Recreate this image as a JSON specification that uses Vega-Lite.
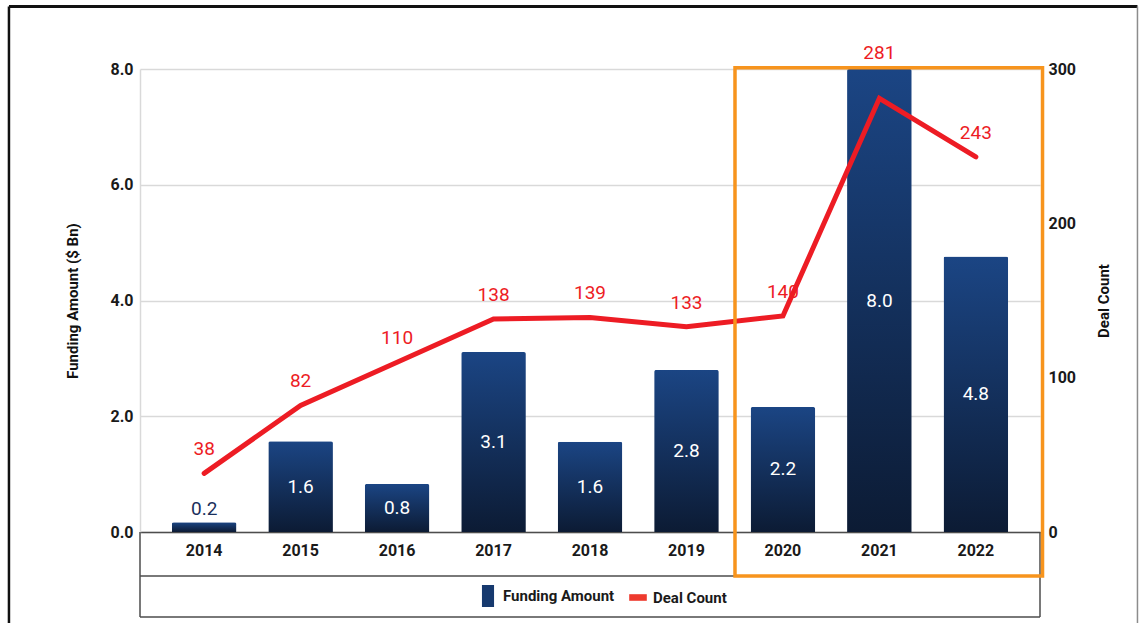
{
  "$schema": "https://vega.github.io/schema/vega-lite/v6.json",
  "width": 900,
  "height": 463,
  "autosize": {"type": "none"},
  "padding": {"left": 140, "top": 69, "right": 99, "bottom": 91},
  "background": "white",
  "config": {"view": {"stroke": null}},
  "data": {
    "values": [
      {"year": "2014", "funding": 0.17, "deals": 38},
      {"year": "2015", "funding": 1.57, "deals": 82},
      {"year": "2016", "funding": 0.83, "deals": 110},
      {"year": "2017", "funding": 3.11, "deals": 138},
      {"year": "2018", "funding": 1.56, "deals": 139},
      {"year": "2019", "funding": 2.8, "deals": 133},
      {"year": "2020", "funding": 2.16, "deals": 140},
      {"year": "2021", "funding": 8.0, "deals": 281},
      {"year": "2022", "funding": 4.76, "deals": 243}
    ]
  },
  "resolve": {"scale": {"x": "independent", "y": "independent", "color": "independent", "shape": "independent"}},
  "layer": [
    {
      "mark": {
        "type": "bar",
        "cornerRadiusTopLeft": 2,
        "cornerRadiusTopRight": 2,
        "color": {"gradient": "linear", "x1": 0, "y1": 0, "x2": 0, "y2": 1, "stops": [{"offset": 0, "color": "#1b4584"}, {"offset": 1, "color": "#0c1b34"}]}
      },
      "encoding": {
        "x": {
          "field": "year", "type": "nominal", "sort": null,
          "scale": {"type": "band", "domain": ["2014","2015","2016","2017","2018","2019","2020","2021","2022"], "paddingInner": 0.33, "paddingOuter": 0.33},
          "axis": {"title": null, "labelAngle": 0, "ticks": false, "tickSize": 0, "grid": false, "domainColor": "#4d4d4d", "domainWidth": 1.5, "labelPadding": 10, "labelFont": "Roboto", "labelFontSize": 16, "labelFontWeight": "bold", "labelColor": "#1a1a1a"}
        },
        "y": {
          "field": "funding", "type": "quantitative",
          "scale": {"domain": [0, 8], "nice": false},
          "axis": {"orient": "left", "values": [0, 2, 4, 6, 8], "format": ".1f", "grid": true, "gridColor": "#d9d9d9", "gridWidth": 1.5, "domain": true, "domainColor": "#d9d9d9", "domainWidth": 1.5, "ticks": false, "tickSize": 0, "labelPadding": 7, "labelFont": "Roboto", "labelFontSize": 16, "labelFontWeight": "bold", "labelColor": "#1a1a1a", "title": "Funding Amount ($ Bn)", "titleFont": "Roboto", "titleFontSize": 15, "titleFontWeight": "bold", "titleColor": "#111111", "titleAngle": 270, "titleX": -68, "titleBaseline": "middle", "titleAlign": "center"}
        }
      }
    },
    {
      "transform": [{"filter": "datum.funding >= 0.5"}, {"calculate": "datum.funding / 2", "as": "mid"}],
      "mark": {"type": "text", "color": "white", "font": "Roboto", "fontSize": 19, "baseline": "middle"},
      "encoding": {
        "x": {"field": "year", "type": "nominal", "sort": null, "scale": {"type": "band", "domain": ["2014","2015","2016","2017","2018","2019","2020","2021","2022"], "paddingInner": 0.33, "paddingOuter": 0.33}, "axis": null},
        "y": {"field": "mid", "type": "quantitative", "scale": {"domain": [0, 8], "nice": false}, "axis": null},
        "text": {"field": "funding", "type": "quantitative", "format": ".1f"}
      }
    },
    {
      "transform": [{"filter": "datum.funding < 0.5"}],
      "mark": {"type": "text", "color": "#1a2f5c", "font": "Roboto", "fontSize": 19, "baseline": "bottom", "dy": -3},
      "encoding": {
        "x": {"field": "year", "type": "nominal", "sort": null, "scale": {"type": "band", "domain": ["2014","2015","2016","2017","2018","2019","2020","2021","2022"], "paddingInner": 0.33, "paddingOuter": 0.33}, "axis": null},
        "y": {"field": "funding", "type": "quantitative", "scale": {"domain": [0, 8], "nice": false}, "axis": null},
        "text": {"field": "funding", "type": "quantitative", "format": ".1f"}
      }
    },
    {
      "mark": {"type": "line", "color": "#ed1c24", "strokeWidth": 5, "strokeJoin": "miter", "strokeCap": "round"},
      "encoding": {
        "x": {"field": "year", "type": "nominal", "sort": null, "scale": {"type": "band", "domain": ["2014","2015","2016","2017","2018","2019","2020","2021","2022"], "paddingInner": 0.33, "paddingOuter": 0.33}, "axis": null},
        "y": {
          "field": "deals", "type": "quantitative",
          "scale": {"domain": [0, 300], "nice": false},
          "axis": {"orient": "right", "values": [0, 100, 200, 300], "grid": false, "domain": false, "ticks": false, "tickSize": 0, "labelPadding": 8, "labelFont": "Roboto", "labelFontSize": 16, "labelFontWeight": "bold", "labelColor": "#1a1a1a", "title": "Deal Count", "titleFont": "Roboto", "titleFontSize": 15, "titleFontWeight": "bold", "titleColor": "#111111", "titleAngle": 270, "titleX": 63, "titleBaseline": "middle", "titleAlign": "center"}
        }
      }
    },
    {
      "transform": [{"calculate": "datum.deals > 270 ? 295 : datum.deals", "as": "labelPos"}],
      "mark": {"type": "text", "color": "#ed1c24", "font": "Roboto", "fontSize": 19, "baseline": "middle", "dy": -24},
      "encoding": {
        "x": {"field": "year", "type": "nominal", "sort": null, "scale": {"type": "band", "domain": ["2014","2015","2016","2017","2018","2019","2020","2021","2022"], "paddingInner": 0.33, "paddingOuter": 0.33}, "axis": null},
        "y": {"field": "labelPos", "type": "quantitative", "scale": {"domain": [0, 300], "nice": false}, "axis": null},
        "text": {"field": "deals", "type": "quantitative"}
      }
    },
    {
      "data": {"values": [{}]},
      "mark": {"type": "rule", "color": "#4d4d4d", "strokeWidth": 1.5, "clip": false},
      "encoding": {
        "x": {"datum": 0, "type": "quantitative", "scale": {"domain": [0, 1], "nice": false, "zero": false}, "axis": null},
        "x2": {"datum": 1},
        "y": {"datum": -0.76, "type": "quantitative", "scale": {"domain": [0, 8], "nice": false}, "axis": null}
      }
    },
    {
      "data": {"values": [{}]},
      "mark": {"type": "rule", "color": "#4d4d4d", "strokeWidth": 1.5, "clip": false},
      "encoding": {
        "x": {"datum": 0, "type": "quantitative", "scale": {"domain": [0, 1], "nice": false, "zero": false}, "axis": null},
        "x2": {"datum": 1},
        "y": {"datum": -1.469, "type": "quantitative", "scale": {"domain": [0, 8], "nice": false}, "axis": null}
      }
    },
    {
      "data": {"values": [{}]},
      "mark": {"type": "rule", "color": "#4d4d4d", "strokeWidth": 1.5, "clip": false},
      "encoding": {
        "x": {"datum": 0, "type": "quantitative", "scale": {"domain": [0, 1], "nice": false, "zero": false}, "axis": null},
        "y": {"datum": 0, "type": "quantitative", "scale": {"domain": [0, 8], "nice": false}, "axis": null},
        "y2": {"datum": -1.469}
      }
    },
    {
      "data": {"values": [{}]},
      "mark": {"type": "rule", "color": "#4d4d4d", "strokeWidth": 1.5, "clip": false},
      "encoding": {
        "x": {"datum": 1, "type": "quantitative", "scale": {"domain": [0, 1], "nice": false, "zero": false}, "axis": null},
        "y": {"datum": 0, "type": "quantitative", "scale": {"domain": [0, 8], "nice": false}, "axis": null},
        "y2": {"datum": -1.469}
      }
    },
    {
      "data": {"values": [{}]},
      "mark": {"type": "rule", "color": "#111111", "strokeWidth": 3, "clip": false},
      "encoding": {
        "x": {"datum": -0.1456, "type": "quantitative", "scale": {"domain": [0, 1], "nice": false, "zero": false}, "axis": null},
        "x2": {"datum": 1.1083},
        "y": {"datum": 9.08, "type": "quantitative", "scale": {"domain": [0, 8], "nice": false}, "axis": null}
      }
    },
    {
      "data": {"values": [{}]},
      "mark": {"type": "rule", "color": "#111111", "strokeWidth": 2.5, "clip": false},
      "encoding": {
        "x": {"datum": -0.1456, "type": "quantitative", "scale": {"domain": [0, 1], "nice": false, "zero": false}, "axis": null},
        "y": {"datum": 9.08, "type": "quantitative", "scale": {"domain": [0, 8], "nice": false}, "axis": null},
        "y2": {"datum": -2}
      }
    },
    {
      "data": {"values": [{}]},
      "mark": {"type": "rule", "color": "#8c8c8c", "strokeWidth": 1.5, "clip": false},
      "encoding": {
        "x": {"datum": 1.1083, "type": "quantitative", "scale": {"domain": [0, 1], "nice": false, "zero": false}, "axis": null},
        "y": {"datum": 9.08, "type": "quantitative", "scale": {"domain": [0, 8], "nice": false}, "axis": null},
        "y2": {"datum": -2}
      }
    },
    {
      "data": {"values": [{}]},
      "mark": {"type": "rect", "fill": null, "fillOpacity": 0, "stroke": "#f7941d", "strokeWidth": 3.5, "clip": false},
      "encoding": {
        "x": {"datum": 0.6611, "type": "quantitative", "scale": {"domain": [0, 1], "nice": false, "zero": false}, "axis": null},
        "x2": {"datum": 1.0028},
        "y": {"datum": 8.02, "type": "quantitative", "scale": {"domain": [0, 8], "nice": false}, "axis": null},
        "y2": {"datum": -0.76}
      }
    },
    {
      "data": {"values": [{"series": "Funding Amount"}, {"series": "Deal Count"}]},
      "mark": {"type": "point", "filled": true, "opacity": 0},
      "encoding": {
        "color": {
          "field": "series", "type": "nominal", "sort": null,
          "scale": {"domain": ["Funding Amount", "Deal Count"], "range": ["#16396e", "#ee3a2e"]},
          "legend": {
            "orient": "none", "legendX": 337, "legendY": 516, "direction": "horizontal", "title": null, "padding": 0,
            "symbolSize": 484, "labelOffset": 4, "columnPadding": 12,
            "labelFont": "Roboto", "labelFontSize": 15, "labelFontWeight": "bold", "labelColor": "#1a1a1a",
            "encode": {"symbols": {"update": {"opacity": {"value": 1}, "fillOpacity": {"value": 1}, "strokeWidth": {"value": 0}}}}
          }
        },
        "shape": {
          "field": "series", "type": "nominal", "sort": null,
          "scale": {"domain": ["Funding Amount", "Deal Count"], "range": ["M-0.55,-1H0.55V1H-0.55Z", "M-0.8,-0.3H0.8V0.3H-0.8Z"]}
        }
      }
    }
  ]
}
